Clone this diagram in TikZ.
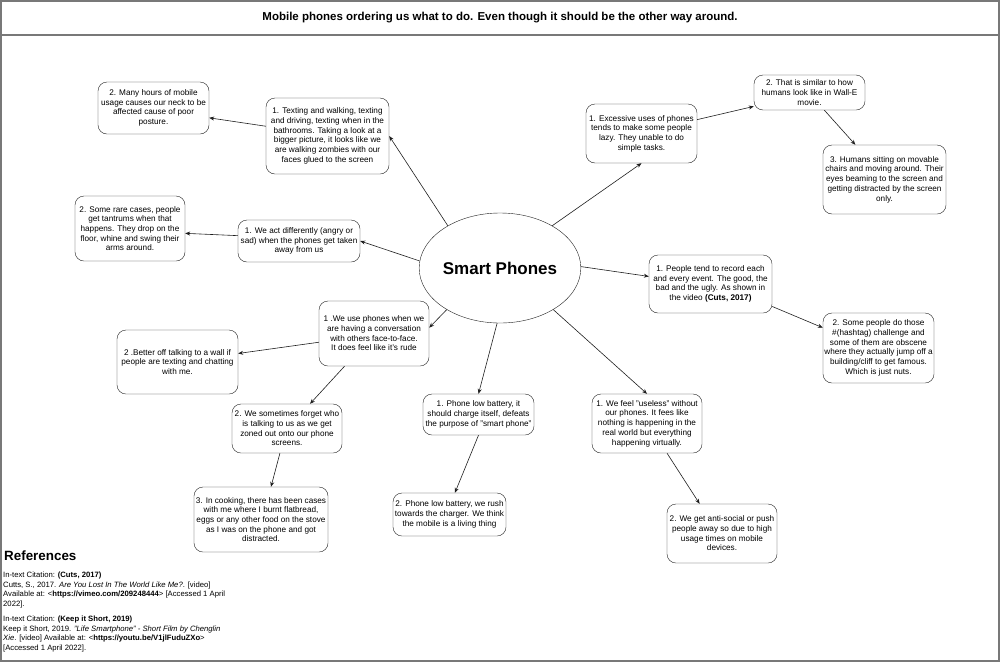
\documentclass[tikz,border=0pt]{standalone}
\usepackage{fontspec}
\setmainfont{Liberation Sans}
\usepackage{tikz}
\usetikzlibrary{shapes.geometric,arrows.meta}
\definecolor{frameGray}{RGB}{120,120,120}
\definecolor{lineDark}{RGB}{30,30,30}
\newcommand{\boxfont}{\fontsize{8.2}{9.7}\selectfont}
\newcommand{\reffont}{\fontsize{7.7}{9.5}\selectfont}
\tikzset{
    % note boxes
    mmBox/.style={
        rectangle,
        draw=lineDark,
        rounded corners=9pt,
        align=center,
        font=\boxfont,
        inner sep=1pt
    },
    % connectors
    mmArrow/.style={-{Stealth[length=5pt,width=4pt]}, draw=lineDark, line width=0.6pt}
}

\begin{document}
\begin{tikzpicture}[x=1pt, y=-1pt]
\useasboundingbox (0,0) rectangle (1000,662);
\draw[frameGray, line width=2pt] (1,1) rectangle (999,661);
\draw[frameGray, line width=2pt] (1,35) -- (999,35);

\node[font=\bfseries\fontsize{11.5}{13}\selectfont] (title) at (500,18) {Mobile phones ordering us what to do. Even though it should be the other way around.};

\node[draw=lineDark, ellipse, minimum width=136pt, minimum height=110pt, inner sep=0pt, font=\bfseries\fontsize{17}{20}\selectfont] (hub) at (500,268) {Smart Phones};

% upper left branch
\node[mmBox, minimum width=123pt, minimum height=76pt] (walk1) at (327.5,136) {1. Texting and walking, texting\\and driving, texting when in the\\bathrooms. Taking a look at a\\bigger picture, it looks like we\\are walking zombies with our\\faces glued to the screen};
\node[mmBox, minimum width=111pt, minimum height=52pt] (walk2) at (153.5,108) {2. Many hours of mobile\\usage causes our neck to be\\affected cause of poor\\posture.};

\node[mmBox, minimum width=122pt, minimum height=42pt] (act1) at (299,241) {1. We act differently (angry or\\sad) when the phones get taken\\away from us};
\node[mmBox, minimum width=110pt, minimum height=65pt] (act2) at (130,228.5) {2. Some rare cases, people\\get tantrums when that\\happens. They drop on the\\floor, whine and swing their\\arms around.};

% lower left branch
\node[mmBox, minimum width=110pt, minimum height=65pt] (talk1) at (374,333.5) {1 .We use phones when we\\are having a conversation\\with others face-to-face.\\It does feel like it's rude};
\node[mmBox, minimum width=121pt, minimum height=64pt] (talk2) at (177.5,362) {2 .Better off talking to a wall if\\people are texting and chatting\\with me.};
\node[mmBox, minimum width=110pt, minimum height=49pt] (talk3) at (287,428.5) {2. We sometimes forget who\\is talking to us as we get\\zoned out onto our phone\\screens.};
\node[mmBox, minimum width=134pt, minimum height=65pt] (talk4) at (261,519.5) {3. In cooking, there has been cases\\with me where I burnt flatbread,\\eggs or any other food on the stove\\as I was on the phone and got\\distracted.};

% bottom branches
\node[mmBox, minimum width=111pt, minimum height=41pt] (batt1) at (478.5,414.5) {1. Phone low battery, it\\should charge itself, defeats\\the purpose of "smart phone"};
\node[mmBox, minimum width=113pt, minimum height=43pt] (batt2) at (449.5,514.5) {2. Phone low battery, we rush\\towards the charger. We think\\the mobile is a living thing};

\node[mmBox, minimum width=110pt, minimum height=59pt] (feel1) at (647,423.5) {1. We feel "useless" without\\our phones. It fees like\\nothing is happening in the\\real world but everything\\happening virtually.};
\node[mmBox, minimum width=110pt, minimum height=59pt] (feel2) at (722,533.5) {2. We get anti-social or push\\people away so due to high\\usage times on mobile\\devices.};

% right branches
\node[mmBox, minimum width=123pt, minimum height=58pt] (rec1) at (710.5,284) {1. People tend to record each\\and every event. The good, the\\bad and the ugly. As shown in\\the video \textbf{(Cuts, 2017)}};
\node[mmBox, minimum width=111pt, minimum height=70pt] (rec2) at (878.5,348) {2. Some people do those\\\#(hashtag) challenge and\\some of them are obscene\\where they actually jump off a\\building/cliff to get famous.\\Which is just nuts.};

\node[mmBox, minimum width=111pt, minimum height=59pt] (lazy1) at (641.5,133.5) {1. Excessive uses of phones\\tends to make some people\\lazy. They unable to do\\simple tasks.};
\node[mmBox, minimum width=111pt, minimum height=35pt] (lazy2) at (809.5,92.5) {2. That is similar to how\\humans look like in Wall-E\\movie.};
\node[mmBox, minimum width=123pt, minimum height=69pt] (lazy3) at (884.5,179.5) {3. Humans sitting on movable\\chairs and moving around. Their\\eyes beaming to the screen and\\getting distracted by the screen\\only.};

\draw[mmArrow] (hub.141) -- (walk1.east);
\draw[mmArrow] (walk1.171) -- (walk2.-10);
\draw[mmArrow] (hub.175) -- (act1.east);
\draw[mmArrow] (act1.175) -- (act2.-5);
\draw[mmArrow] (hub.218) -- (talk1.6);
\draw[mmArrow] (talk1.189) -- (talk2.8);
\draw[mmArrow] (talk1.228) -- (talk3.47);
\draw[mmArrow] (talk3.254) -- (talk4.73);
\draw[mmArrow] (hub.267) -- (batt1.north);
\draw[mmArrow] (batt1.south) -- (batt2.76);
\draw[mmArrow] (hub.-38) -- (feel1.north);
\draw[mmArrow] (feel1.-56) -- (feel2.127);
\draw[mmArrow] (hub.1) -- (rec1.173);
\draw[mmArrow] (rec1.-20) -- (rec2.160);
\draw[mmArrow] (hub.39) -- (lazy1.south);
\draw[mmArrow] (lazy1.14) -- (lazy2.194);
\draw[mmArrow] (lazy2.-50) -- (lazy3.130);

% references
\node[anchor=west, inner sep=0pt, font=\bfseries\fontsize{13.4}{15}\selectfont] (refhead) at (4,556) {References};
\node[anchor=north west, inner sep=0pt, align=left, font=\reffont] (reftext) at (3,572) {In-text Citation: \textbf{(Cuts, 2017)}\\
Cutts, S., 2017. \textit{Are You Lost In The World Like Me?}. {[}video{]}\\
Available at: <\textbf{https://vimeo.com/209248444}> {[}Accessed 1 April\\
2022{]}.\\[6pt]
In-text Citation: \textbf{(Keep it Short, 2019)}\\
Keep it Short, 2019. \textit{"Life Smartphone" - Short Film by Chenglin}\\
\textit{Xie}. {[}video{]} Available at: <\textbf{https://youtu.be/V1jlFuduZXo}>\\
{[}Accessed 1 April 2022{]}.};
\end{tikzpicture}
\end{document}
